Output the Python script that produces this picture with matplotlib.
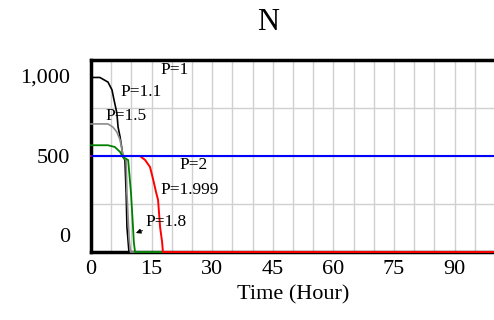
import numpy as np
import matplotlib
matplotlib.use("Agg")
import matplotlib.pyplot as plt
import matplotlib.transforms as mtransforms

plt.rcParams['font.family'] = ['Liberation Serif', 'DejaVu Serif']

## runs, (time in hours, N)
t_p1 = [0, 100]
n_p1 = [1000, 1000]

t_p11 = [0, 2.2, 4.2, 5.2, 5.7, 6.4, 6.7, 7.2, 7.7, 7.9, 8.4, 8.7, 8.9, 9.2, 9.4, 100]
n_p11 = [909, 909, 885, 844, 792, 724, 651, 599, 531, 495, 479, 307, 130, 52, 0, 0]

t_p15 = [0, 4.2, 5.4, 6.4, 7.2, 7.7, 7.9, 8.7, 8.9, 9.3, 9.5, 9.8, 100]
n_p15 = [667, 667, 651, 625, 583, 531, 495, 479, 307, 130, 52, 0, 0]

t_p18 = [0, 4.2, 5.9, 7.2, 7.9, 9.2, 9.9, 10.4, 10.6, 10.9, 100]
n_p18 = [556, 556, 547, 521, 495, 479, 307, 130, 52, 0, 0]

t_p1999 = [0, 12.1, 13.4, 14.6, 15.3, 16.1, 16.6, 17.1, 17.6, 17.8, 100]
n_p1999 = [500.25, 500.2, 479, 443, 385, 312, 271, 130, 52, 0, 0]

t_p2 = [0, 100]
n_p2 = [500, 500]

x_ticks = [0, 15, 30, 45, 60, 75, 90]
y_ticks = [0, 500, 1000]
y_labels = ["0", "500", "1,000"]

fig = plt.figure(figsize=(4.94, 3.2), dpi=100)
ax = fig.add_axes([91/494, 1-252/320, 403/494 + 0.002, 192/320])

ax.plot(t_p1, n_p1, color="black", lw=1.2, zorder=3)
ax.plot(t_p11, n_p11, color="black", lw=1.2, zorder=3, clip_on=False)
ax.plot(t_p15, n_p15, color="#8c8c8c", lw=1.2, zorder=3, clip_on=False)
ax.plot(t_p18, n_p18, color="#008000", lw=1.3, zorder=3, clip_on=False)
ax.plot(t_p1999, n_p1999, color="red", lw=1.4, zorder=3, clip_on=False)
ax.plot(t_p2, n_p2, color="blue", lw=1.5, zorder=4)

ax.set_xlim(0, 100)
ax.set_ylim(0, 1000)
ax.set_xticks(x_ticks)
ax.set_xticks(np.arange(0, 101, 5), minor=True)
ax.set_yticks(y_ticks)
ax.set_yticklabels(y_labels)
ax.set_yticks([250, 750], minor=True)
ax.grid(which="both", color="#d0d0d0", lw=1)
ax.set_axisbelow(True)
ax.tick_params(which="both", length=0)
ax.tick_params(axis="y", labelsize=16, pad=15)
ax.tick_params(axis="x", labelsize=16, pad=6)

for s in ["left", "top", "bottom"]:
    ax.spines[s].set_linewidth(2.5)
ax.spines["right"].set_visible(False)

# vensim keeps the end labels inside the axis span
yt = ax.yaxis.get_major_ticks()
yt[0].label1.set_transform(yt[0].label1.get_transform() + mtransforms.ScaledTranslation(0, 17/100, fig.dpi_scale_trans))
yt[2].label1.set_transform(yt[2].label1.get_transform() + mtransforms.ScaledTranslation(0, -16/100, fig.dpi_scale_trans))

ax.set_xlabel("Time (Hour)", fontsize=16, labelpad=4)
fig.text(268/494, 1-23/320, "N", fontsize=22, ha="center", va="center")

lbl = dict(fontsize=12.5, va="center", ha="left", zorder=5)
ax.text(17.1, 948, "P=1", **lbl)
ax.text(7.2, 833, "P=1.1", **lbl)
ax.text(3.5, 708, "P=1.5", **lbl)
ax.text(22.0, 453, "P=2", **lbl)
ax.text(17.1, 323, "P=1.999", **lbl)
ax.annotate("P=1.8", xy=(11.1, 99), xytext=(13.4, 156), fontsize=12.5, va="center", ha="left",
            arrowprops=dict(arrowstyle="-|>", color="black", lw=0.8, mutation_scale=7, shrinkA=0, shrinkB=0))

plt.savefig("out.png", dpi=100)
